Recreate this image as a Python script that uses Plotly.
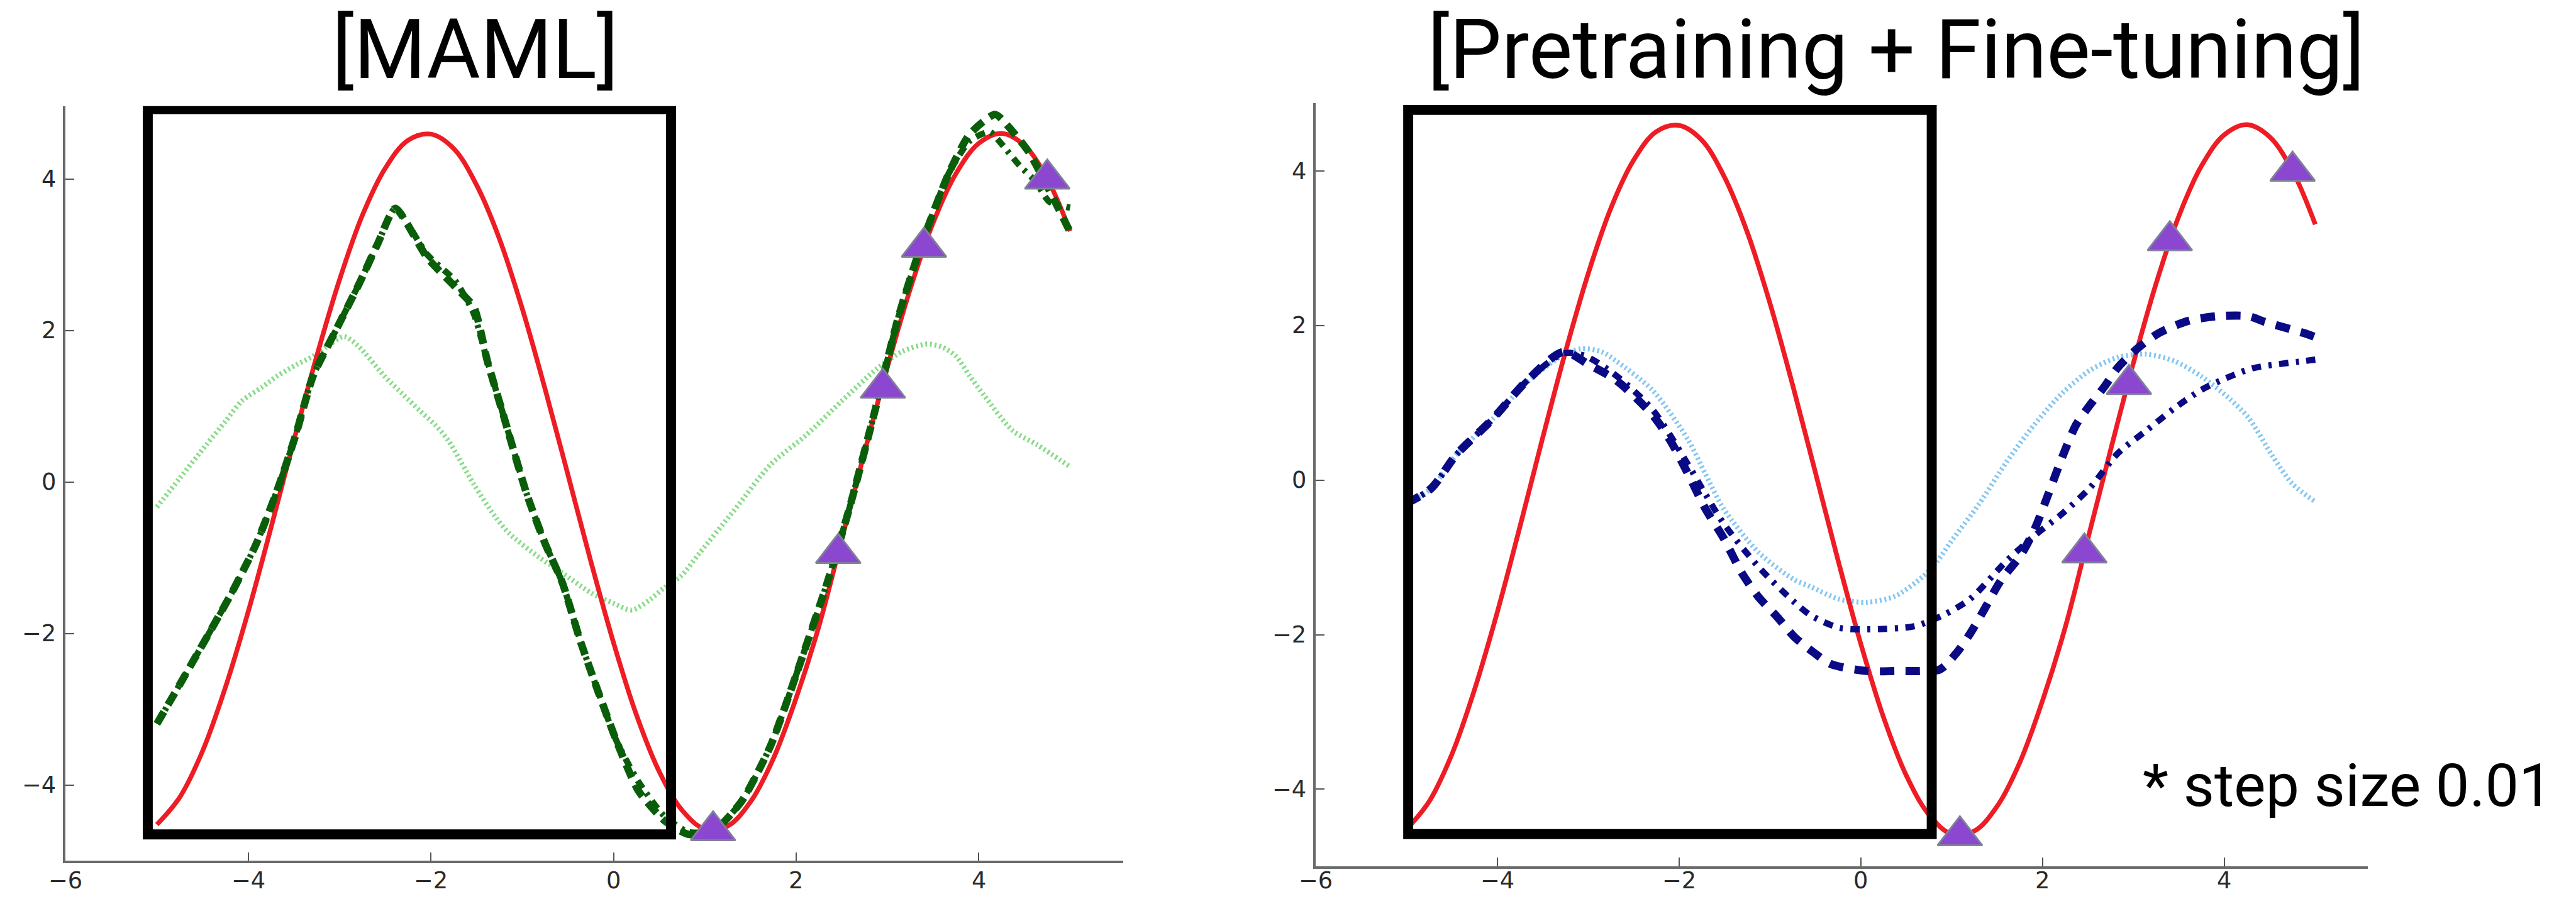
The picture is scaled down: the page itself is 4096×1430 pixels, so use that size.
import plotly.graph_objects as go

# ---------------- data ----------------
# ground-truth sine task (red)
TRUE_X = [-5.0, -4.75, -4.5, -4.25, -4.0, -3.75, -3.5, -3.25, -3.0, -2.75, -2.5,
          -2.25, -2.0, -1.75, -1.5, -1.25, -1.0, -0.75, -0.5, -0.25, 0.0, 0.25,
          0.5, 0.75, 1.0, 1.25, 1.5, 1.75, 2.0, 2.25, 2.5, 2.75, 3.0, 3.25, 3.5,
          3.75, 4.0, 4.25, 4.5, 4.75, 5.0]
TRUE_Y = [-4.52, -4.16, -3.55, -2.71, -1.71, -0.60, 0.55, 1.66, 2.67, 3.52, 4.14,
          4.51, 4.59, 4.40, 3.92, 3.21, 2.29, 1.23, 0.10, -1.04, -2.12, -3.07,
          -3.82, -4.33, -4.58, -4.54, -4.22, -3.65, -2.85, -1.90, -0.75, 0.40,
          1.52, 2.55, 3.42, 4.07, 4.47, 4.60, 4.44, 4.00, 3.31]

# K support points used for adaptation (purple triangles)
SUPPORT_X = [1.09, 2.46, 2.95, 3.40, 4.75]
SUPPORT_Y = [-4.60, -0.94, 1.24, 3.10, 4.00]

# MAML: pre-update
MAML_PRE_X = [-5.0, -4.75, -4.46, -4.25, -4.07, -3.85, -3.68, -3.47, -3.29, -3.10,
              -2.95, -2.80, -2.51, -2.30, -2.12, -1.95, -1.81, -1.53, -1.30, -1.14,
              -0.83, -0.56, -0.25, 0.0, 0.20, 0.40, 0.55, 0.74, 0.94, 1.33, 1.72,
              2.11, 2.50, 2.89, 3.16, 3.43, 3.60, 3.75, 3.90, 4.06, 4.37, 4.64, 5.0]
MAML_PRE_Y = [-0.33, 0.05, 0.49, 0.80, 1.07, 1.25, 1.40, 1.55, 1.66, 1.82,
              1.92, 1.80, 1.40, 1.15, 0.94, 0.75, 0.55, -0.03, -0.45, -0.68,
              -0.98, -1.20, -1.46, -1.60, -1.69, -1.55, -1.40, -1.24, -0.94, -0.36, 0.23,
              0.62, 1.07, 1.50, 1.72, 1.82, 1.78, 1.66, 1.40, 1.14, 0.68, 0.49, 0.20]

# MAML: after 1 gradient step
MAML_1_X = [-5.0, -4.73, -4.18, -3.91, -3.68, -3.48, -3.29, -3.05, -2.78, -2.58,
            -2.39, -2.04, -1.73, -1.53, -1.38, -1.22, -0.95, -0.75, -0.56, -0.36,
            -0.17, 0.03, 0.27, 0.55, 0.82, 1.11, 1.41, 1.72, 2.03, 2.34, 2.58,
            2.85, 3.12, 3.36, 3.67, 3.90, 4.12, 4.25, 4.45, 4.62, 4.77, 5.0]
MAML_1_Y = [-3.19, -2.63, -1.46, -0.81, -0.10, 0.62, 1.40, 1.98, 2.63, 3.15,
            3.61, 3.00, 2.65, 2.22, 1.59, 0.94, -0.16, -0.81, -1.33, -2.11,
            -2.76, -3.41, -3.95, -4.40, -4.62, -4.59, -4.20, -3.48, -2.44, -1.33, -0.36,
            0.88, 2.18, 3.09, 4.07, 4.50, 4.62, 4.46, 4.17, 3.97, 3.70, 3.62]

# MAML: after 10 gradient steps
MAML_10_X = [-5.0, -4.73, -4.18, -3.91, -3.68, -3.48, -3.29, -3.05, -2.78, -2.58,
             -2.39, -2.04, -1.73, -1.53, -1.38, -1.22, -0.95, -0.75, -0.56, -0.36,
             -0.17, 0.03, 0.27, 0.55, 0.82, 1.11, 1.41, 1.72, 2.03, 2.34, 2.58,
             2.85, 3.12, 3.36, 3.67, 3.90, 4.18, 4.36, 4.55, 4.75, 5.0]
MAML_10_Y = [-3.19, -2.63, -1.46, -0.81, -0.10, 0.62, 1.40, 1.98, 2.63, 3.15,
             3.61, 2.96, 2.57, 2.31, 1.59, 0.94, -0.16, -0.81, -1.33, -2.11,
             -2.76, -3.41, -4.07, -4.46, -4.65, -4.59, -4.20, -3.48, -2.44, -1.33, -0.36,
             0.88, 2.18, 3.09, 4.07, 4.59, 4.85, 4.64, 4.35, 3.90, 3.30]

# Pretraining: pre-update
PT_PRE_X = [-5.0, -4.73, -4.45, -4.06, -3.67, -3.30, -3.08, -2.85, -2.69, -2.29,
            -1.90, -1.71, -1.51, -1.12, -0.73, -0.55, -0.24, 0.07, 0.38, 0.68,
            0.84, 0.99, 1.30, 1.60, 1.91, 2.22, 2.52, 2.83, 3.14, 3.45, 3.75,
            4.06, 4.27, 4.52, 4.75, 5.0]
PT_PRE_Y = [-0.30, -0.11, 0.33, 0.78, 1.27, 1.60, 1.70, 1.66, 1.54, 1.16,
            0.52, 0.08, -0.37, -0.94, -1.29, -1.38, -1.54, -1.58, -1.50, -1.25,
            -1.05, -0.80, -0.31, 0.23, 0.72, 1.13, 1.42, 1.59, 1.63, 1.54, 1.34,
            1.05, 0.80, 0.33, -0.05, -0.28]

# Pretraining: after 1 gradient step
PT_1_X = [-5.0, -4.73, -4.45, -4.06, -3.67, -3.27, -3.04, -2.69, -2.29, -1.90,
          -1.71, -1.51, -1.12, -0.73, -0.55, -0.24, 0.07, 0.59, 0.90, 1.20,
          1.60, 1.91, 2.22, 2.52, 2.83, 3.14, 3.45, 3.75, 4.06, 4.32, 4.87, 5.0]
PT_1_Y = [-0.30, -0.11, 0.33, 0.78, 1.29, 1.64, 1.61, 1.35, 0.91, 0.20,
          -0.18, -0.56, -1.13, -1.58, -1.75, -1.91, -1.93, -1.89, -1.75, -1.54,
          -1.05, -0.72, -0.43, -0.10, 0.35, 0.64, 0.93, 1.17, 1.34, 1.45, 1.54, 1.56]

# Pretraining: after 10 gradient steps
PT_10_X = [-5.0, -4.73, -4.45, -4.06, -3.67, -3.27, -3.00, -2.69, -2.29, -2.10,
           -1.90, -1.71, -1.51, -1.31, -1.12, -0.92, -0.73, -0.53, -0.33, 0.07,
           0.40, 0.68, 0.87, 1.05, 1.20, 1.36, 1.54, 1.76, 1.91, 2.06, 2.22,
           2.37, 2.52, 2.68, 2.83, 3.05, 3.29, 3.60, 3.91, 4.27, 4.44, 4.91, 5.0]
PT_10_Y = [-0.30, -0.11, 0.33, 0.78, 1.29, 1.66, 1.50, 1.29, 0.84, 0.52,
           0.08, -0.37, -0.75, -1.20, -1.52, -1.77, -2.03, -2.22, -2.38, -2.47,
           -2.47, -2.47, -2.45, -2.24, -1.99, -1.67, -1.30, -0.97, -0.64, -0.19, 0.31,
           0.72, 0.97, 1.21, 1.46, 1.71, 1.91, 2.06, 2.12, 2.12, 2.05, 1.89, 1.85]

X_TICKS = [-6, -4, -2, 0, 2, 4]
Y_TICKS = [-4, -2, 0, 2, 4]

PANEL_TITLES = ["[MAML]", "[Pretraining + Fine-tuning]"]
NOTE_TEXT = "* step size 0.01"

# highlighted input region in each panel: (x0, x1, y0, y1)
HIGHLIGHT_MAML = (-5.10, 0.63, -4.65, 4.92)
HIGHLIGHT_PT = (-4.98, 0.78, -4.58, 4.79)

# ---------------- layout helpers ----------------
S = 0.993                 # scale from the 4124x1440 design grid
W, H = 4096, 1430
GW, GH = 4124.0, 1440.0   # design grid


def fx(px):
    return px / GW


def fy(py):
    return 1 - py / GH


RED = "#ee1c24"
LGREEN = "#86dc86"
DGREEN = "#0a5e0a"
LBLUE = "#84c6f2"
DBLUE = "#0a0a85"
TRI_FILL = "#8b47cf"
TRI_EDGE = "#80809a"
TICK_TEXT = "#2a2a2a"

fig = go.Figure()


def add_line(x, y, color, width, dash, xa, ya, smoothing=0.8):
    fig.add_trace(go.Scatter(
        x=x, y=y, mode="lines", xaxis=xa, yaxis=ya,
        line=dict(color=color, width=width * S, dash=dash, shape="spline",
                  smoothing=smoothing),
        hoverinfo="skip", showlegend=False))


def dash(*parts):
    return ",".join(f"{p * S:.2f}px" for p in parts)


# left panel: MAML
add_line(MAML_PRE_X, MAML_PRE_Y, LGREEN, 8, dash(3, 4.5), "x", "y")
add_line(TRUE_X, TRUE_Y, RED, 7.5, "solid", "x", "y", 1.0)
add_line(MAML_1_X, MAML_1_Y, DGREEN, 10, dash(15, 10, 5, 10), "x", "y", 0.6)
add_line(MAML_10_X, MAML_10_Y, DGREEN, 12, dash(22, 13), "x", "y", 0.6)

# right panel: pretraining + fine-tuning
add_line(PT_PRE_X, PT_PRE_Y, LBLUE, 8, dash(3, 4.5), "x2", "y2")
add_line(TRUE_X, TRUE_Y, RED, 7.5, "solid", "x2", "y2", 1.0)
add_line(PT_1_X, PT_1_Y, DBLUE, 10, dash(15, 12, 5, 12), "x2", "y2")
add_line(PT_10_X, PT_10_Y, DBLUE, 13, dash(23, 18), "x2", "y2")

for xa, ya in (("x", "y"), ("x2", "y2")):
    fig.add_trace(go.Scatter(
        x=SUPPORT_X, y=SUPPORT_Y, mode="markers", xaxis=xa, yaxis=ya,
        marker=dict(symbol="triangle-up", size=62 * S, color=TRI_FILL,
                    line=dict(color=TRI_EDGE, width=3 * S)),
        hoverinfo="skip", showlegend=False))

# highlight boxes
for (x0, x1, y0, y1), xr, yr in ((HIGHLIGHT_MAML, "x", "y"), (HIGHLIGHT_PT, "x2", "y2")):
    fig.add_shape(type="rect", xref=xr, yref=yr, x0=x0, x1=x1, y0=y0, y1=y1,
                  line=dict(color="black", width=16 * S), fillcolor="rgba(0,0,0,0)",
                  layer="above")

axis_common = dict(
    showgrid=False, zeroline=False, showline=True, linecolor="#6a6a6a",
    linewidth=4 * S, ticks="inside", ticklen=14 * S, tickwidth=2 * S,
    tickcolor="#555555", mirror=False, showticklabels=False,
)

# panel frames in design-grid pixels: (left, right, top, bottom) and value ranges
PANELS = [
    dict(xa="x", ya="y", box=(105, 1798, 170, 1379), yrange=[-5, 4.96]),
    dict(xa="x2", ya="y2", box=(2106, 3791, 165, 1388), yrange=[-5, 4.88]),
]
XRANGE = [-6, 5.58]

layout_axes = {}
for i, p in enumerate(PANELS):
    l, r, t, b = p["box"]
    sfx = "" if i == 0 else str(i + 1)
    layout_axes["xaxis" + sfx] = dict(domain=[fx(l), fx(r)], range=XRANGE,
                                      tickvals=X_TICKS, anchor=p["ya"], **axis_common)
    layout_axes["yaxis" + sfx] = dict(domain=[fy(b), fy(t)], range=p["yrange"],
                                      tickvals=Y_TICKS, anchor=p["xa"], **axis_common)

fig.update_layout(width=W, height=H, margin=dict(l=0, r=0, t=0, b=0),
                  paper_bgcolor="white", plot_bgcolor="white", **layout_axes)


def tick_text(v):
    return ("\u2212" if v < 0 else "") + str(abs(v))


tick_font = dict(family="DejaVu Sans", size=37 * S, color=TICK_TEXT)
for p in PANELS:
    l, r, t, b = p["box"]
    label_y = min(b + 36, 1410)   # keep the x labels fully inside the canvas
    for v in X_TICKS:
        fig.add_annotation(text=tick_text(v), xref=p["xa"], yref="paper",
                           x=v, y=fy(label_y), xanchor="center", yanchor="middle",
                           showarrow=False, font=tick_font, borderpad=0)
    for v in Y_TICKS:
        fig.add_annotation(text=tick_text(v), xref="paper", yref=p["ya"],
                           x=fx(l - 14), y=v, xanchor="right", yanchor="middle",
                           showarrow=False, font=tick_font, borderpad=0)

title_font = dict(family="Roboto", size=132 * S, color="black")
fig.add_annotation(text=PANEL_TITLES[0], xref="paper", yref="paper",
                   x=fx(761), y=fy(80), xanchor="center", yanchor="middle",
                   showarrow=False, font=title_font)
fig.add_annotation(text=PANEL_TITLES[1], xref="paper", yref="paper",
                   x=fx(3036), y=fy(80), xanchor="center", yanchor="middle",
                   showarrow=False, font=title_font)
fig.add_annotation(text=NOTE_TEXT, xref="paper", yref="paper",
                   x=fx(3428), y=fy(1258), xanchor="left", yanchor="middle",
                   showarrow=False, font=dict(family="Roboto", size=96 * S, color="black"))

fig.write_html("out.html")
